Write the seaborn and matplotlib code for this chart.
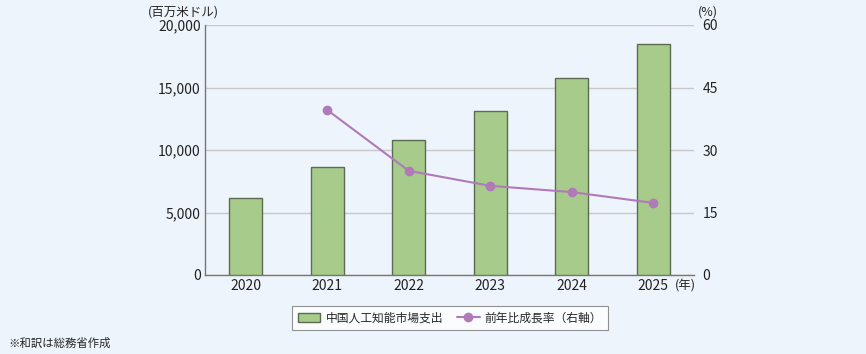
import matplotlib.pyplot as plt
import seaborn as sns
import numpy as np
import pandas as pd

# データ
years = ['2020', '2021', '2022', '2023', '2024', '2025']
spending = [6160, 8640, 10800, 13120, 15760, 18480]      # 百万米ドル
growth = [np.nan, 39.6, 25.0, 21.4, 19.9, 17.3]          # %
left_ticks = [0, 5000, 10000, 15000, 20000]
right_ticks = [0, 15, 30, 45, 60]

sns.set_theme(style='white')
plt.rcParams['font.family'] = ['Noto Sans CJK JP', 'DejaVu Sans']

bg = '#EEF4FC'
bar_color = '#A6CB8A'
line_color = '#B07AB8'
grid_color = '#C8C8C8'

fig = plt.figure(figsize=(8.66, 3.54), dpi=100, facecolor=bg)
ax = fig.add_axes([205 / 866, 1 - 275 / 354, 489 / 866, 250 / 354])
ax.set_facecolor(bg)

df = pd.DataFrame({'year': years, 'spending': spending})
sns.barplot(data=df, x='year', y='spending', color=bar_color, saturation=1,
            edgecolor='#5B6B52', linewidth=1, width=0.4, ax=ax,
            label='中国人工知能市場支出', zorder=3)

ax.set_xlim(-0.5, 5.5)
ax.set_ylim(0, 20000)
ax.set_yticks(left_ticks)
ax.set_yticklabels([f'{v:,}' for v in left_ticks])
ax.yaxis.grid(True, color=grid_color, linewidth=1)
ax.set_axisbelow(True)
ax.set_xlabel('')
ax.set_ylabel('')
ax.tick_params(axis='y', length=0, pad=3, labelsize=10, colors='#222222')
ax.tick_params(axis='x', length=0, pad=3, labelsize=10, colors='#222222')
for s in ['top', 'right']:
    ax.spines[s].set_visible(False)
for s in ['left', 'bottom']:
    ax.spines[s].set_color('#777777')
    ax.spines[s].set_linewidth(1)

# 右軸：前年比成長率
ax2 = ax.twinx()
sns.lineplot(x=np.arange(len(years)), y=growth, ax=ax2, color=line_color,
             marker='o', markersize=7, markeredgewidth=0, linewidth=1.5,
             label='前年比成長率（右軸）', zorder=4)
ax2.set_ylim(0, 60)
ax2.set_yticks(right_ticks)
ax2.tick_params(axis='y', length=0, pad=6, labelsize=10, colors='#222222')
for s in ax2.spines.values():
    s.set_visible(False)
ax2.get_legend().remove()

h1, l1 = ax.get_legend_handles_labels()
h2, l2 = ax2.get_legend_handles_labels()
if ax.get_legend():
    ax.get_legend().remove()
leg = fig.legend(h1 + h2, l1 + l2, loc='center', bbox_to_anchor=(450 / 866, 1 - 318 / 354),
                 ncol=2, fontsize=8.5, frameon=True, fancybox=False, facecolor='white',
                 edgecolor='#777777', handlelength=1.9, handleheight=0.9,
                 columnspacing=1.2, borderpad=0.45, handletextpad=0.45)
leg.get_frame().set_linewidth(0.8)

fig.text(148 / 866, 1 - 12 / 354, '(百万米ドル)', fontsize=9, va='center', ha='left')
fig.text(708 / 866, 1 - 12 / 354, '(%)', fontsize=9, va='center', ha='center')
fig.text(675 / 866, 1 - 286 / 354, '(年)', fontsize=9, va='center', ha='left')
fig.text(8 / 866, 1 - 343 / 354, '※和訳は総務省作成', fontsize=8.2, va='center', ha='left')

fig.savefig('out.png', dpi=100, facecolor=bg)
